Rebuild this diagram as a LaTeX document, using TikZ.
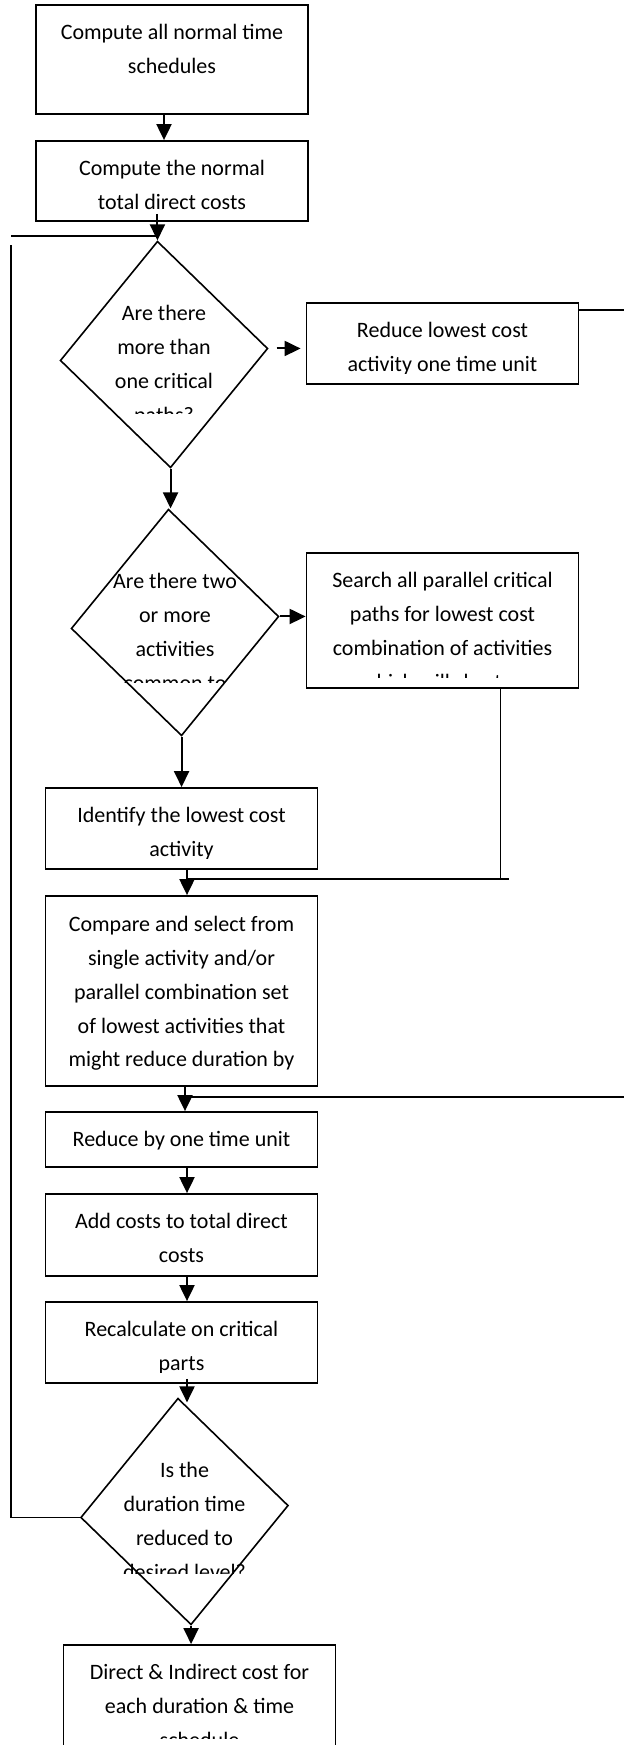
\documentclass[tikz,border=0pt]{standalone}
\usepackage{fontspec}
\setmainfont{Carlito}
\usetikzlibrary{arrows.meta,calc,shapes.geometric}

\begin{document}
\begin{tikzpicture}[x=0.5pt, y=-0.5pt, >={Triangle[length=8pt,width=7.5pt]},
    stepbox/.style={draw, line width=0.9pt, minimum width=136pt, inner sep=0pt},
    decision/.style={draw, diamond, line width=0.8pt, minimum width=104pt,
        minimum height=113.5pt, inner sep=0pt, rotate=3.3},
    txt/.style={anchor=north, align=center, inner sep=0pt,
        font=\fontsize{11pt}{16.9pt}\selectfont},
    flow/.style={->, line width=1pt},
    link/.style={line width=0.8pt}]
    \useasboundingbox (0,0) rectangle (624,1745);

    \node[stepbox, minimum height=54.5pt] (b1) at (172,59.5) {};
    \node[stepbox, minimum height=40pt] (b2) at (172,181) {};
    \node[decision] (d1) at (164,354.5) {};
    \node[stepbox, minimum height=40.5pt] (b3) at (442.5,343.5) {};
    \node[decision] (d2) at (175,622.5) {};
    \node[stepbox, minimum height=67.5pt] (b4) at (442.5,620.5) {};
    \node[stepbox, minimum height=40.5pt] (b5) at (181.5,828.5) {};
    \node[stepbox, minimum height=95pt] (b6) at (181.5,991) {};
    \node[stepbox, minimum height=27.5pt] (b7) at (181.5,1139.5) {};
    \node[stepbox, minimum height=41pt] (b8) at (181.5,1235) {};
    \node[stepbox, minimum height=40.5pt] (b9) at (181.5,1342.5) {};
    \node[decision] (d3) at (184.5,1511.5) {};
    \node[stepbox, minimum height=53pt] (b10) at (199.5,1698) {};

    \node[txt] (t1) at ([yshift=-10pt]b1.north) {Compute all normal time\\schedules};
    \node[txt] (t2) at ([yshift=-10pt]b2.north) {Compute the normal\\total direct costs};
    \node[txt] (t6) at ([yshift=-10.5pt]b6.north) {Compare and select from\\single activity and/or\\parallel combination set\\of lowest activities that\\might reduce duration by};
    \node[txt] (t7) at ([yshift=-10pt]b7.north) {Reduce by one time unit};
    \node[txt] (t8) at ([yshift=-10pt]b8.north) {Add costs to total direct\\costs};

    \begin{scope}
        \clip (b3.north west) rectangle ($(b3.south east)+(0,-11)$);
        \node[txt] (t3) at ([yshift=-10pt]b3.north) {Reduce lowest cost\\activity one time unit};
    \end{scope}
    \begin{scope}
        \clip (b4.north west) rectangle ($(b4.south east)+(0,-11)$);
        \node[txt] (t4) at ([yshift=-10pt]b4.north) {Search all parallel critical\\paths for lowest cost\\combination of activities\\which will shorten};
    \end{scope}
    \begin{scope}
        \clip (b5.north west) rectangle ($(b5.south east)+(0,-11)$);
        \node[txt] (t5) at ([yshift=-10pt]b5.north) {Identify the lowest cost\\activity};
    \end{scope}
    \begin{scope}
        \clip (b9.north west) rectangle ($(b9.south east)+(0,-11)$);
        \node[txt] (t9) at ([yshift=-10pt]b9.north) {Recalculate on critical\\parts};
    \end{scope}
    \begin{scope}
        \clip (b10.north west) rectangle ($(b10.south east)+(0,-13)$);
        \node[txt] (t10) at ([yshift=-10pt]b10.north) {Direct \& Indirect cost for\\each duration \& time\\schedule};
    \end{scope}
    \begin{scope}
        \clip ($(d1.center)+(-160,-140)$) rectangle ($(d1.center)+(160,59)$);
        \node[txt] (q1) at ($(d1.center)+(0,-49.5)$) {Are there\\more than\\one critical\\paths?};
    \end{scope}
    \begin{scope}
        \clip ($(d2.center)+(-160,-140)$) rectangle ($(d2.center)+(160,60)$);
        \node[txt] (q2) at ($(d2.center)+(0,-49.5)$) {Are there two\\or more\\activities\\common to};
    \end{scope}
    \begin{scope}
        \clip ($(d3.center)+(-160,-140)$) rectangle ($(d3.center)+(160,62)$);
        \node[txt] (q3) at ($(d3.center)+(0,-49.5)$) {Is the\\duration time\\reduced to\\desired level?};
    \end{scope}

    \coordinate (lp) at (11,236);
    \coordinate (lq) at (11,245);
    \coordinate (m1) at (187,879);
    \coordinate (m2) at (185,1097);
    \coordinate (edge) at (640,0);

    \draw[flow] (b1.south -| d1.center) -- (b2.north -| d1.center);
    \draw[flow] ([yshift=4pt]b2.south -| d1.north) -- (d1.north);
    \draw[flow] (d1.south) -- (d1.south |- d2.north);
    \draw[flow, shorten <=4pt, shorten >=2.5pt] (d1.east) -- (d1.east -| b3.west);
    \draw[flow] (d2.east) -- (d2.east -| b4.west);
    \draw[flow] (d2.south) -- (d2.south |- b5.north);
    \draw[link] ($(b4.south west)!0.712!(b4.south east)$) coordinate (s4) -- (s4 |- m1);
    \draw[link] ([xshift=4pt]s4 |- m1) -- (m1);
    \draw[flow] (m1 |- b5.south) -- (m1 |- b6.north);
    \draw[link] ([yshift=-4pt]b3.north east) -| (edge |- m2) -- (m2);
    \draw[flow] (m2 |- b6.south) -- (m2 |- b7.north);
    \draw[flow] (m1 |- b7.south) -- (m1 |- b8.north);
    \draw[flow] (m1 |- b8.south) -- (m1 |- b9.north);
    \draw[flow] ([yshift=2.5pt]m1 |- b9.south) -- ([yshift=-2.5pt]m1 |- d3.north);
    \draw[flow] (d3.south) -- (d3.south |- b10.north);
    \draw[link] (d3.west) -| (lq);
    \draw[link] (lp) -- (lp -| d1.north);
\end{tikzpicture}
\end{document}
